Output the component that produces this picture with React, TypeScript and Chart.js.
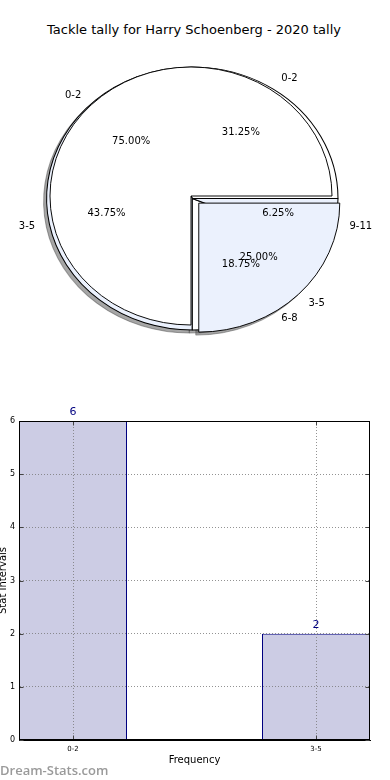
import React, { useEffect, useRef } from 'react';
import { Chart, registerables } from 'chart.js';

Chart.register(...registerables);

// ---------- data ----------
const TITLE = 'Tackle tally for Harry Schoenberg - 2020 tally';
const PIE_TOP_LABELS = ['0-2', '3-5'];
const PIE_TOP_VALUES = [6, 2];
const PIE_UNDER_LABELS = ['0-2', '3-5', '6-8', '9-11'];
const PIE_UNDER_VALUES = [5, 7, 3, 1];
const BAR_LABELS = ['0-2', '3-5'];
const BAR_VALUES = [6, 2];
const Y_AXIS_TITLE = 'Stat Intervals';
const X_AXIS_TITLE = 'Frequency';
const WATERMARK = 'Dream-Stats.com';

// ---------- styles ----------
const FONT = '"DejaVu Sans", "Liberation Sans", sans-serif';
const WHITE = '#ffffff';
const LIGHT = '#ebf1fd';
const SHADOW = 'rgba(77,77,77,0.5)';
const PIE_RADIUS = 141;
// per-pie ellipse geometry (screen px): centre shift, x radius, y radius
const PIE_GEOMS = [
  { dx: 0, dy: 0, rx: 141, ry: 129 },
  { dx: 1.3, dy: 2.5, rx: 145.7, ry: 131.5 },
];
const TOP_EXPLODE = [0, 11];
const UNDER_EXPLODE = [0, 0, 0, 0];
const BAR_FILL = '#ccccE4';
const BAR_EDGE = '#000080';
const GRID = 'rgba(120,120,120,0.8)';
const TICK_LEN = 4;
const FAR = 10000;

const PIE_SETS = [
  { labels: PIE_TOP_LABELS, values: PIE_TOP_VALUES },
  { labels: PIE_UNDER_LABELS, values: PIE_UNDER_VALUES },
];

function applyGeom(ctx: CanvasRenderingContext2D, cx: number, cy: number, di: number) {
  const g = PIE_GEOMS[di];
  ctx.translate(cx + g.dx, cy + g.dy);
  ctx.scale(g.rx / PIE_RADIUS, -g.ry / PIE_RADIUS);
  ctx.translate(-cx, -cy);
}

const ellipsePlugin = {
  id: 'ellipsePie',
  afterDatasetsUpdate(chart: any) {
    chart.data.datasets.forEach((_: any, di: number) => {
      chart.getDatasetMeta(di).data.forEach((el: any) => {
        const off = ((el.options && el.options.offset) || 0) / 4;
        const circ = el.endAngle - el.startAngle;
        const fix = 1 - Math.sin(Math.min(Math.PI, circ));
        el.innerRadius = 0;
        el.outerRadius = PIE_RADIUS - off * fix;
      });
    });
  },
  beforeDatasetsDraw(chart: any) {
    const ctx = chart.ctx;
    const el0: any = chart.getDatasetMeta(0).data[0];
    // shadow pass: every wedge's shadow lies below every wedge
    for (let di = chart.data.datasets.length - 1; di >= 0; di--) {
      ctx.save();
      ctx.shadowColor = SHADOW;
      ctx.shadowBlur = 0;
      ctx.shadowOffsetX = FAR - 3;
      ctx.shadowOffsetY = 3;
      ctx.translate(-FAR, 0);
      applyGeom(ctx, el0.x, el0.y, di);
      chart.getDatasetMeta(di).data.forEach((el: any) => el.draw(ctx));
      ctx.restore();
    }
  },
  beforeDatasetDraw(chart: any, args: any) {
    const ctx = chart.ctx;
    const el0: any = chart.getDatasetMeta(0).data[0];
    ctx.save();
    applyGeom(ctx, el0.x, el0.y, args.index);
  },
  afterDatasetDraw(chart: any) {
    chart.ctx.restore();
  },
  afterDraw(chart: any) {
    const ctx = chart.ctx;
    ctx.save();
    ctx.font = `10px ${FONT}`;
    ctx.fillStyle = '#000';
    ctx.textBaseline = 'middle';
    PIE_SETS.forEach((set, di) => {
      const g = PIE_GEOMS[di];
      const total = set.values.reduce((a, b) => a + b, 0);
      chart.getDatasetMeta(di).data.forEach((el: any, i: number) => {
        const mid = (el.startAngle + el.endAngle) / 2;
        const t = ((el.options && el.options.offset) || 0) / 4;
        const pt = (r: number) => {
          const ux = (t + r) * Math.cos(mid);
          const uy = (t + r) * Math.sin(mid);
          return [el.x + g.dx + (ux * g.rx) / PIE_RADIUS, el.y + g.dy - (uy * g.ry) / PIE_RADIUS];
        };
        const [lx, ly] = pt(1.1 * PIE_RADIUS);
        ctx.textAlign = Math.cos(mid) >= 0 ? 'left' : 'right';
        ctx.fillText(set.labels[i], lx, ly);
        const [px, py] = pt(0.6 * PIE_RADIUS);
        ctx.textAlign = 'center';
        ctx.fillText(((set.values[i] / total) * 100).toFixed(2) + '%', px, py);
      });
    });
    ctx.restore();
  },
};

const barPlugin = {
  id: 'barExtras',
  afterDraw(chart: any) {
    const ctx = chart.ctx;
    const a = chart.chartArea;
    const L = Math.round(a.left) + 0.5;
    const T = Math.round(a.top) + 0.5;
    const R = Math.round(a.right) - 0.5;
    const B = Math.round(a.bottom) - 0.5;
    ctx.save();
    // inward tick marks on all four sides
    ctx.strokeStyle = '#444';
    ctx.lineWidth = 1;
    ctx.beginPath();
    chart.scales.y.ticks.forEach((tk: any) => {
      const y = Math.round(chart.scales.y.getPixelForValue(tk.value)) + 0.5;
      ctx.moveTo(L, y);
      ctx.lineTo(L + TICK_LEN, y);
      ctx.moveTo(R, y);
      ctx.lineTo(R - TICK_LEN, y);
    });
    chart.scales.x.ticks.forEach((tk: any) => {
      const x = Math.round(chart.scales.x.getPixelForValue(tk.value)) + 0.5;
      ctx.moveTo(x, B);
      ctx.lineTo(x, B - TICK_LEN);
      ctx.moveTo(x, T);
      ctx.lineTo(x, T + TICK_LEN);
    });
    ctx.stroke();
    // frame
    ctx.strokeStyle = '#000';
    ctx.strokeRect(L, T, R - L, B - T);
    // value labels above bars
    ctx.font = `11px ${FONT}`;
    ctx.fillStyle = BAR_EDGE;
    ctx.textAlign = 'center';
    ctx.textBaseline = 'bottom';
    chart.getDatasetMeta(0).data.forEach((bar: any, i: number) => {
      ctx.fillText(String(BAR_VALUES[i]), bar.x, bar.y - 3);
    });
    ctx.restore();
  },
};

export default function App() {
  const pieRef = useRef<HTMLCanvasElement>(null);
  const barRef = useRef<HTMLCanvasElement>(null);

  useEffect(() => {
    const pie = new Chart(pieRef.current as HTMLCanvasElement, {
      type: 'pie',
      data: {
        labels: PIE_UNDER_LABELS,
        datasets: [
          {
            data: PIE_TOP_VALUES,
            backgroundColor: [WHITE, LIGHT],
            borderColor: '#000',
            borderWidth: 1,
            offset: TOP_EXPLODE.map((v) => v * 4),
            clip: false,
          } as any,
          {
            data: PIE_UNDER_VALUES,
            backgroundColor: [WHITE, LIGHT, WHITE, LIGHT],
            borderColor: '#000',
            borderWidth: 1,
            offset: UNDER_EXPLODE.map((v) => v * 4),
            clip: false,
          } as any,
        ],
      },
      options: {
        animation: false,
        responsive: false,
        events: [],
        rotation: 90,
        layout: { padding: 0 },
        plugins: { legend: { display: false }, tooltip: { enabled: false }, title: { display: false } },
      } as any,
      plugins: [ellipsePlugin],
    });

    const bar = new Chart(barRef.current as HTMLCanvasElement, {
      type: 'bar',
      data: {
        datasets: [
          {
            data: BAR_VALUES.map((v, i) => ({ x: i, y: v })),
            backgroundColor: BAR_FILL,
            borderColor: BAR_EDGE,
            borderWidth: 1,
            barPercentage: 4 / 9,
            categoryPercentage: 1,
          } as any,
        ],
      },
      options: {
        animation: false,
        responsive: false,
        events: [],
        layout: { padding: { top: 21, right: 20, bottom: 12, left: 0 } },
        plugins: { legend: { display: false }, tooltip: { enabled: false } },
        scales: {
          x: {
            type: 'linear',
            min: -2 / 9,
            max: 11 / 9,
            offset: false,
            afterBuildTicks: (s: any) => {
              s.ticks = BAR_LABELS.map((_, i) => ({ value: i }));
            },
            afterFit: (s: any) => {
              s.height = 28;
            },
            ticks: {
              autoSkip: false,
              maxRotation: 0,
              padding: 5,
              color: '#000',
              font: { size: 7, family: FONT },
              callback: (v: any) => BAR_LABELS[v] ?? '',
            },
            grid: { color: GRID, drawTicks: false, offset: false, z: 1, borderDash: [1, 2] },
            border: { display: true, color: '#000', dash: [1, 2], z: 2 },
            title: {
              display: true,
              text: X_AXIS_TITLE,
              color: '#000',
              font: { size: 10, family: FONT },
              padding: { top: 0, bottom: 2 },
            },
          },
          y: {
            min: 0,
            max: 6,
            afterFit: (s: any) => {
              s.width = 19;
            },
            ticks: { stepSize: 1, padding: 4, color: '#000', font: { size: 8, family: FONT } },
            grid: { color: GRID, drawTicks: false, z: 1, borderDash: [1, 2] },
            border: { display: true, color: '#000', dash: [1, 2], z: 2 },
            title: {
              display: true,
              text: Y_AXIS_TITLE,
              color: '#000',
              font: { size: 10, family: FONT },
              padding: { top: -3, bottom: 0 },
            },
          },
        },
      } as any,
      plugins: [barPlugin],
    });

    return () => {
      pie.destroy();
      bar.destroy();
    };
  }, []);

  return (
    <div style={{ position: 'absolute', left: 0, top: 0, width: 390, height: 780, overflow: 'hidden', background: '#fff' }}>
      <div
        style={{
          position: 'absolute',
          left: 0,
          top: 21,
          width: 388,
          textAlign: 'center',
          font: `13px ${FONT}`,
          lineHeight: '18px',
          color: '#000',
        }}
      >
        {TITLE}
      </div>
      <canvas ref={pieRef} width={382} height={392} style={{ position: 'absolute', left: 0, top: 0 }} />
      <canvas ref={barRef} width={390} height={380} style={{ position: 'absolute', left: 0, top: 400 }} />
      <div
        style={{
          position: 'absolute',
          left: 0,
          top: 761,
          font: `600 13px "Open Sans", ${FONT}`,
          lineHeight: '18px',
          color: '#9a9a9a',
        }}
      >
        {WATERMARK}
      </div>
    </div>
  );
}
